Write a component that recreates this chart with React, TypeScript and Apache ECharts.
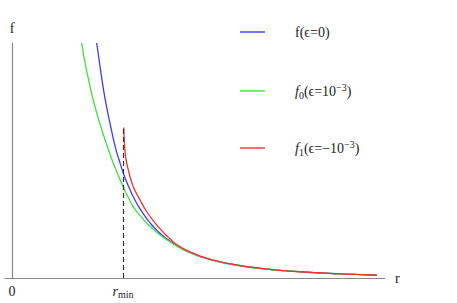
import React, { useEffect, useRef } from "react";
import * as echarts from "echarts";

const rMin = 1;

const rBlue = [0.763, 0.79, 0.824, 0.855, 0.892, 0.937, 0.965, 1.003, 1.05, 1.108, 1.18, 1.25, 1.32, 1.394, 1.47, 1.543, 1.63, 1.721, 1.85, 1.98, 2.13, 2.3, 2.45, 2.595, 2.75, 2.9, 3.1, 3.288];
const fBlue = [10, 9.1, 8.03, 7.22, 6.38, 5.45, 5.02, 4.46, 3.9, 3.31, 2.75, 2.31, 1.96, 1.67, 1.42, 1.22, 1.04, 0.88, 0.71, 0.585, 0.468, 0.378, 0.315, 0.265, 0.222, 0.188, 0.15, 0.118];

const rGreen = [0.628, 0.65, 0.678, 0.71, 0.748, 0.793, 0.874, 0.93, 0.988, 1.04, 1.093, 1.16, 1.22, 1.3, 1.378, 1.46, 1.543, 1.63, 1.721, 1.85, 1.98, 2.13, 2.3, 2.45, 2.595, 2.75, 2.9, 3.1, 3.288];
const fGreen = [10, 9.36, 8.71, 8.0, 7.29, 6.55, 5.38, 4.68, 4.03, 3.5, 3.03, 2.62, 2.31, 1.96, 1.68, 1.43, 1.21, 1.03, 0.873, 0.706, 0.582, 0.466, 0.376, 0.314, 0.264, 0.221, 0.187, 0.15, 0.118];

const rRed = [1.007, 1.01, 1.015, 1.025, 1.045, 1.07, 1.1, 1.153, 1.21, 1.27, 1.34, 1.405, 1.47, 1.543, 1.63, 1.721, 1.85, 1.98, 2.13, 2.3, 2.45, 2.595, 2.75, 2.9, 3.1, 3.288];
const fRed = [6.4, 6.0, 5.6, 5.1, 4.65, 4.2, 3.8, 3.32, 2.85, 2.45, 2.06, 1.75, 1.47, 1.25, 1.055, 0.89, 0.716, 0.59, 0.471, 0.381, 0.317, 0.266, 0.223, 0.189, 0.151, 0.118];

const seriesNames = ["blue", "green", "red"];
const legendTexts = [
  "{n|f(ϵ=0)}",
  "{i|f}{sub|0}{n|(ϵ=10}{sup|−3}{n|)}",
  "{i|f}{sub|1}{n|(ϵ=−10}{sup|−3}{n|)}",
];
const legendCenters = [34, 91, 148];
const colors = ["#3a3aff", "#3de33d", "#f23030"];

const zip = (a: number[], b: number[]) => a.map((v, i) => [v, b[i]]);

const serif = "Liberation Serif, 'DejaVu Serif', serif";

export default function App() {
  const ref = useRef<HTMLDivElement>(null);
  useEffect(() => {
    document.body.style.margin = "0";
    if (!ref.current) return;
    const chart = echarts.init(ref.current, null, { renderer: "svg" });
    const rich = {
      n: { fontFamily: serif, fontSize: 14, lineHeight: 18, color: "#222" },
      i: { fontFamily: serif, fontSize: 14, fontStyle: "italic", lineHeight: 18, color: "#222" },
      sub: { fontFamily: serif, fontSize: 10, lineHeight: 10, verticalAlign: "bottom", color: "#222" },
      sup: { fontFamily: serif, fontSize: 10, lineHeight: 10, verticalAlign: "top", color: "#222" },
    };
    const datas = [zip(rBlue, fBlue), zip(rGreen, fGreen), zip(rRed, fRed)];
    chart.setOption({
      animation: false,
      grid: { left: 5, right: 72, top: 43, bottom: 25 },
      legend: seriesNames.map((nm, k) => ({
        data: [nm],
        left: 240,
        top: legendCenters[k] - 9,
        padding: 0,
        orient: "vertical",
        icon: "rect",
        itemWidth: 25,
        itemHeight: 1.4,
        selectedMode: false,
        formatter: () => legendTexts[k],
        textStyle: { padding: [0, 0, 0, 25], rich },
      })),
      xAxis: {
        type: "value",
        min: -0.063,
        max: 3.36,
        name: "r",
        nameLocation: "end",
        nameGap: 10,
        nameTextStyle: { fontFamily: serif, fontSize: 14, color: "#222" },
        axisLine: { show: true, onZero: true, lineStyle: { color: "#888", width: 1.2 } },
        axisTick: { show: false },
        splitLine: { show: false },
        axisLabel: {
          customValues: [0, rMin],
          margin: 5,
          formatter: (v: number) => (Math.abs(v) < 1e-9 ? "{n|0}" : "{ri|r}{mn|min}"),
          rich: {
            n: { fontFamily: serif, fontSize: 14, color: "#222", lineHeight: 16 },
            ri: { fontFamily: serif, fontSize: 14, fontStyle: "italic", color: "#222", lineHeight: 16 },
            mn: { fontFamily: serif, fontSize: 10, color: "#222", lineHeight: 12, verticalAlign: "bottom" },
          },
        },
      },
      yAxis: {
        type: "value",
        min: 0,
        max: 10,
        name: "f",
        nameLocation: "end",
        nameGap: 8,
        nameTextStyle: { fontFamily: serif, fontSize: 14, color: "#222", align: "center" },
        axisLine: { show: true, onZero: true, lineStyle: { color: "#888", width: 1.2 } },
        axisTick: { show: false },
        axisLabel: { show: false },
        splitLine: { show: false },
      },
      series: seriesNames.map((nm, k) => ({
        type: "line",
        name: nm,
        data: datas[k],
        smooth: 0.5,
        symbol: "none",
        clip: true,
        lineStyle: { color: colors[k], width: 1.3 },
        itemStyle: { color: colors[k] },
        markLine:
          k === 2
            ? {
                silent: true,
                symbol: "none",
                label: { show: false },
                lineStyle: { color: "#333", width: 1.2, type: [5, 3] },
                data: [[{ coord: [rMin, 0] }, { coord: [rMin, 6.47] }]],
              }
            : undefined,
      })),
    });
    return () => chart.dispose();
  }, []);
  return <div ref={ref} style={{ width: 457, height: 303 }} />;
}
